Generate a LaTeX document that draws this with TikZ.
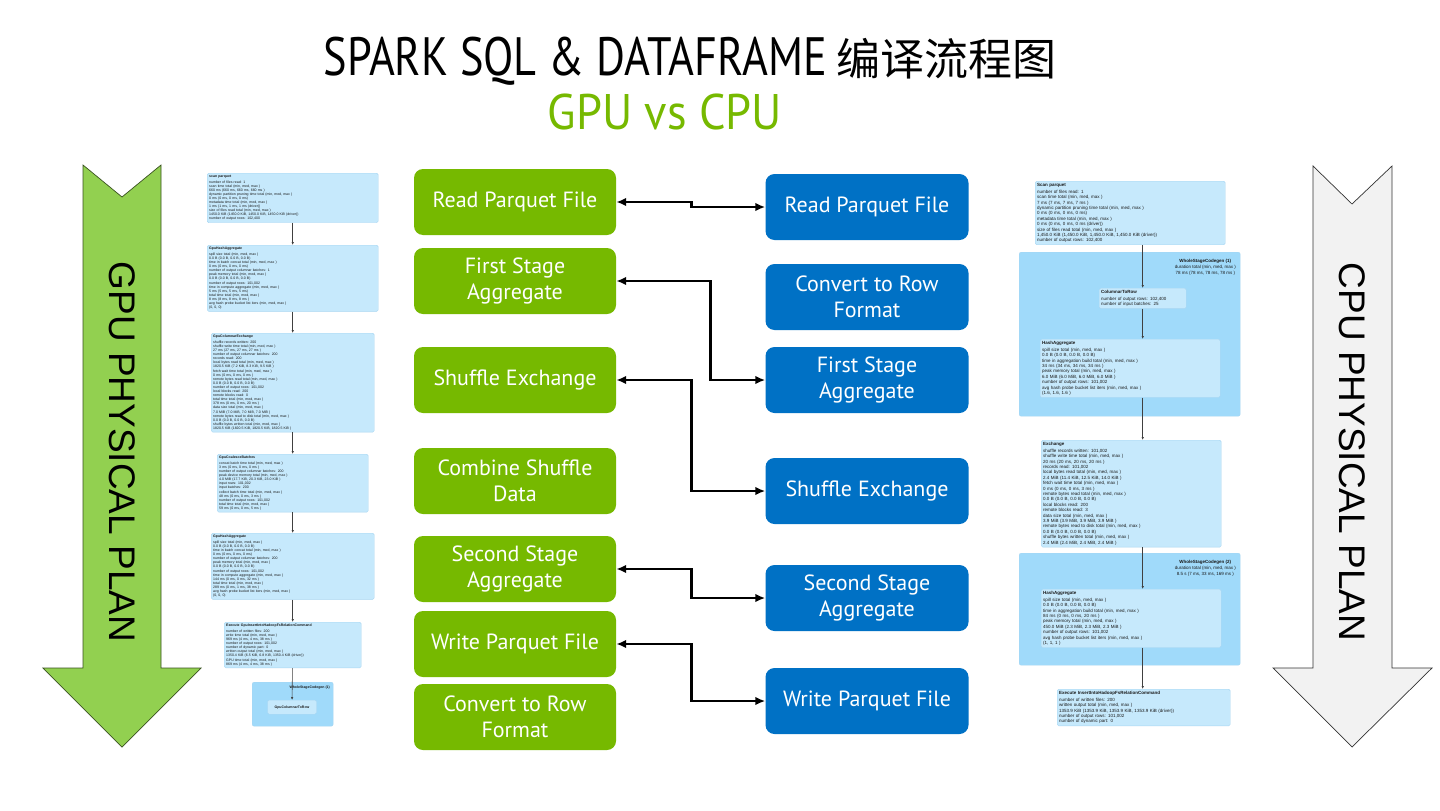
\documentclass[tikz,border=0pt]{standalone}
\usepackage{fontspec}
\setmainfont{PT Sans}
\newfontfamily\cjkfont{Noto Sans CJK SC}
\newfontfamily\arialfont{Liberation Sans}
\usetikzlibrary{arrows.meta,positioning,calc}

\definecolor{nvgreen}{RGB}{118,185,0}
\definecolor{cpublue}{RGB}{0,113,197}
\definecolor{arrowgreen}{RGB}{146,208,80}
\definecolor{arrowgray}{RGB}{242,242,242}
\definecolor{planfill}{RGB}{198,233,252}
\definecolor{planline}{RGB}{168,214,242}
\definecolor{clusterfill}{RGB}{160,218,250}

\tikzset{
  gpubox/.style={fill=nvgreen, text=white, rounded corners=9pt, minimum width=202pt, minimum height=66pt, align=center, font=\fontsize{22}{26}\selectfont},
  cpubox/.style={gpubox, fill=cpublue, minimum width=203pt},
  link/.style={{Latex[length=10pt,width=8.5pt]}-{Latex[length=10pt,width=8.5pt]}, line width=2.6pt},
  planbox/.style={fill=planfill, draw=planline, line width=0.4pt, rounded corners=1.5pt, align=left, anchor=north west, inner sep=2pt, text=black!90},
  gplan/.style={planbox, font=\arialfont\fontsize{3.5}{4.1}\selectfont},
  cplan/.style={planbox, font=\arialfont\fontsize{4.5}{5.4}\selectfont},
  cluster/.style={fill=clusterfill, draw=planline, line width=0.4pt, rounded corners=2pt, anchor=north west, inner sep=0pt},
  planlink/.style={-{Latex[length=3pt,width=2.5pt]}, line width=0.6pt, draw=black!75},
}

\begin{document}
\begin{tikzpicture}[x=1pt,y=-1pt]
\useasboundingbox (0,0) rectangle (1440,811);
\fill[white] (0,0) rectangle (1440,811);

% title
\node (title) at (690,61) {\scalebox{0.82}[1]{\fontsize{54}{60}\selectfont SPARK SQL \& DATAFRAME}\hspace{9pt}{\cjkfont\fontsize{44}{50}\selectfont 编译流程图}};
\node[text=nvgreen] (subtitle) at (665,112) {\scalebox{0.93}[1]{\fontsize{50}{56}\selectfont GPU vs CPU}};

% side arrows
\draw[fill=arrowgreen, draw=black!60!arrowgreen, line width=0.7pt] (83,165) -- (122,197) -- (161,165) -- (161,668) -- (201,668) -- (122,747) -- (43,668) -- (83,668) -- cycle;
\node[rotate=-90, font=\arialfont\fontsize{37}{40}\selectfont] (gpuplan) at (122,452) {GPU PHYSICAL PLAN};
\draw[fill=arrowgray, draw=black!80, line width=0.7pt] (1313,166) -- (1352,204) -- (1392,166) -- (1392,668) -- (1432,668) -- (1352,747) -- (1273,668) -- (1313,668) -- cycle;
\node[rotate=-90, font=\arialfont\fontsize{37}{40}\selectfont] (cpuplan) at (1352,452) {CPU PHYSICAL PLAN};

% GPU stages
\node[gpubox] (gread) at (515,202) {Read Parquet File};
\node[gpubox] (gfirst) at (515,281) {First Stage\\Aggregate};
\node[gpubox] (gshuf) at (515,380) {Shuffle Exchange};
\node[gpubox] (gcomb) at (515,481) {Combine Shuffle\\Data};
\node[gpubox] (gsecond) at (515,569) {Second Stage\\Aggregate};
\node[gpubox] (gwrite) at (515,644) {Write Parquet File};
\node[gpubox] (gconv) at (515,717) {Convert to Row\\Format};

% CPU stages
\node[cpubox] (bread) at (867,207) {Read Parquet File};
\node[cpubox] (bconv) at (867,297) {Convert to Row\\Format};
\node[cpubox] (bfirst) at (867,380) {First Stage\\Aggregate};
\node[cpubox] (bshuf) at (867,491) {Shuffle Exchange};
\node[cpubox] (bsecond) at (867,598) {Second Stage\\Aggregate};
\node[cpubox] (bwrite) at (867,701) {Write Parquet File};

\draw[link] (gread.east) -- ++(75,0) |- (bread.west);
\draw[link] (gfirst.east) -- ++(94,0) |- (bfirst.west);
\draw[link] (gshuf.east) -- ++(75,0) |- (bshuf.west);
\draw[link] (gsecond.east) -- ++(75,0) |- (bsecond.west);
\draw[link] (gwrite.east) -- ++(75,0) |- (bwrite.west);

% GPU physical plan
\node[gplan, text width=167pt] (gscan) at (207,173) {\textbf{scan parquet}\\[1.5pt]
number of files read: 1\\scan time total (min, med, max )\\660 ms (660 ms, 660 ms, 660 ms )\\dynamic partition pruning time total (min, med, max )\\0 ms (0 ms, 0 ms, 0 ms)\\metadata time total (min, med, max )\\1 ms (1 ms, 1 ms, 1 ms (driver))\\size of files read total (min, med, max )\\1450.0 KiB (1450.0 KiB, 1450.0 KiB, 1450.0 KiB (driver))\\number of output rows: 102,400};
\node[gplan, text width=167pt] (gagg1) at (207,245) {\textbf{GpuHashAggregate}\\[1.5pt]
spill size total (min, med, max )\\0.0 B (0.0 B, 0.0 B, 0.0 B)\\time in batch concat total (min, med, max )\\0 ms (0 ms, 0 ms, 0 ms)\\number of output columnar batches: 1\\peak memory total (min, med, max )\\0.0 B (0.0 B, 0.0 B, 0.0 B)\\number of output rows: 101,002\\time in compute aggregate (min, med, max )\\5 ms (5 ms, 5 ms, 5 ms)\\total time total (min, med, max )\\8 ms (8 ms, 8 ms, 8 ms )\\avg hash probe bucket list iters (min, med, max )\\(0, 0, 0)};
\node[gplan, text width=159pt] (gexch) at (211,333) {\textbf{GpuColumnarExchange}\\[1.5pt]
shuffle records written: 200\\shuffle write time total (min, med, max )\\27 ms (27 ms, 27 ms, 27 ms )\\number of output columnar batches: 200\\records read: 200\\local bytes read total (min, med, max )\\1820.5 KiB (7.2 KiB, 8.3 KiB, 9.5 KiB )\\fetch wait time total (min, med, max )\\0 ms (0 ms, 0 ms, 0 ms )\\remote bytes read total (min, med, max )\\0.0 B (0.0 B, 0.0 B, 0.0 B)\\number of output rows: 101,002\\local blocks read: 200\\remote blocks read: 0\\total time total (min, med, max )\\378 ms (0 ms, 0 ms, 20 ms )\\data size total (min, med, max )\\7.0 MiB (7.0 MiB, 7.0 MiB, 7.0 MiB )\\remote bytes read to disk total (min, med, max )\\0.0 B (0.0 B, 0.0 B, 0.0 B)\\shuffle bytes written total (min, med, max )\\1820.5 KiB (1820.5 KiB, 1820.5 KiB, 1820.5 KiB )};
\node[gplan, text width=147pt] (gcoal) at (217,454) {\textbf{GpuCoalesceBatches}\\[1.5pt]
concat batch time total (min, med, max )\\3 ms (0 ms, 0 ms, 0 ms )\\number of output columnar batches: 200\\peak device memory total (min, med, max )\\4.0 MiB (17.7 KiB, 20.3 KiB, 23.0 KiB )\\input rows: 101,002\\input batches: 200\\collect batch time total (min, med, max )\\48 ms (0 ms, 0 ms, 3 ms )\\number of output rows: 101,002\\total time total (min, med, max )\\59 ms (0 ms, 0 ms, 5 ms )};
\node[gplan, text width=159pt] (gagg2) at (211,533) {\textbf{GpuHashAggregate}\\[1.5pt]
spill size total (min, med, max )\\0.0 B (0.0 B, 0.0 B, 0.0 B)\\time in batch concat total (min, med, max )\\0 ms (0 ms, 0 ms, 0 ms)\\number of output columnar batches: 200\\peak memory total (min, med, max )\\0.0 B (0.0 B, 0.0 B, 0.0 B)\\number of output rows: 101,002\\time in compute aggregate (min, med, max )\\144 ms (0 ms, 0 ms, 32 ms )\\total time total (min, med, max )\\289 ms (0 ms, 1 ms, 38 ms )\\avg hash probe bucket list iters (min, med, max )\\(0, 0, 0)};
\node[gplan, text width=133pt] (gexec) at (224,622) {\textbf{Execute GpuInsertIntoHadoopFsRelationCommand}\\[1.5pt]
number of written files: 200\\write time total (min, med, max )\\969 ms (4 ms, 4 ms, 38 ms )\\number of output rows: 101,002\\number of dynamic part: 0\\written output total (min, med, max )\\1350.4 KiB (6.5 KiB, 6.8 KiB, 1350.4 KiB (driver))\\GPU time total (min, med, max )\\869 ms (4 ms, 4 ms, 38 ms )};
\node[cluster, minimum width=81pt, minimum height=44pt] (gstage) at (252,682) {};
\node[anchor=north east, inner sep=0pt, font=\arialfont\bfseries\fontsize{3.5}{4.1}\selectfont, text=black!90] (gstagelbl) at (330,686) {WholeStageCodegen (1)};
\node[planbox, anchor=north, align=center, minimum width=49pt, minimum height=14pt, font=\arialfont\bfseries\fontsize{3.5}{4.1}\selectfont] (gc2r) at (292,700) {GpuColumnarToRow};

\draw[planlink] (gscan) -- (gagg1);
\draw[planlink] (gagg1) -- (gexch);
\draw[planlink] (gexch) -- (gcoal);
\draw[planlink] (gcoal) -- (gagg2);
\draw[planlink] (gagg2) -- (gexec);
\draw[planlink] (gexec) -- (gc2r);

% CPU physical plan
\node[cplan, text width=186pt] (cscan) at (1035,181) {\textbf{Scan parquet}\\[1.5pt]
number of files read: 1\\scan time total (min, med, max )\\7 ms (7 ms, 7 ms, 7 ms )\\dynamic partition pruning time total (min, med, max )\\0 ms (0 ms, 0 ms, 0 ms)\\metadata time total (min, med, max )\\0 ms (0 ms, 0 ms, 0 ms (driver))\\size of files read total (min, med, max )\\1,450.0 KiB (1,450.0 KiB, 1,450.0 KiB, 1,450.0 KiB (driver))\\number of output rows: 102,400};
\node[cluster, minimum width=221pt, minimum height=164pt] (cstage1) at (1019,252) {};
\node[anchor=north east, inner sep=0pt, align=center, font=\arialfont\fontsize{4.5}{5.4}\selectfont, text=black!90] (cstage1lbl) at (1236,259) {\textbf{WholeStageCodegen (1)}\\[1pt]duration total (min, med, max )\\78 ms (78 ms, 78 ms, 78 ms )};
\node[cplan, text width=83pt] (cc2r) at (1099,288) {\textbf{ColumnarToRow}\\[1.5pt]
number of output rows: 102,400\\number of input batches: 25};
\node[cplan, text width=176pt] (cagg1) at (1040,339) {\textbf{HashAggregate}\\[1.5pt]
spill size total (min, med, max )\\0.0 B (0.0 B, 0.0 B, 0.0 B)\\time in aggregation build total (min, med, max )\\34 ms (34 ms, 34 ms, 34 ms )\\peak memory total (min, med, max )\\6.0 MiB (6.0 MiB, 6.0 MiB, 6.0 MiB )\\number of output rows: 101,002\\avg hash probe bucket list iters (min, med, max )\\(1.6, 1.6, 1.6 )};
\node[cplan, text width=176pt] (cexch) at (1041,440) {\textbf{Exchange}\\[1.5pt]
shuffle records written: 101,002\\shuffle write time total (min, med, max )\\20 ms (20 ms, 20 ms, 20 ms )\\records read: 101,002\\local bytes read total (min, med, max )\\2.4 MiB (11.4 KiB, 12.5 KiB, 14.0 KiB )\\fetch wait time total (min, med, max )\\0 ms (0 ms, 0 ms, 3 ms )\\remote bytes read total (min, med, max )\\0.0 B (0.0 B, 0.0 B, 0.0 B)\\local blocks read: 200\\remote blocks read: 3\\data size total (min, med, max )\\3.9 MiB (3.9 MiB, 3.9 MiB, 3.9 MiB )\\remote bytes read to disk total (min, med, max )\\0.0 B (0.0 B, 0.0 B, 0.0 B)\\shuffle bytes written total (min, med, max )\\2.4 MiB (2.4 MiB, 2.4 MiB, 2.4 MiB )};
\node[cluster, minimum width=221pt, minimum height=112pt] (cstage2) at (1019,553) {};
\node[anchor=north east, inner sep=0pt, align=center, font=\arialfont\fontsize{4.5}{5.4}\selectfont, text=black!90] (cstage2lbl) at (1236,560) {\textbf{WholeStageCodegen (2)}\\[1pt]duration total (min, med, max )\\8.5 s (7 ms, 33 ms, 169 ms )};
\node[cplan, text width=176pt] (cagg2) at (1041,589) {\textbf{HashAggregate}\\[1.5pt]
spill size total (min, med, max )\\0.0 B (0.0 B, 0.0 B, 0.0 B)\\time in aggregation build total (min, med, max )\\84 ms (0 ms, 0 ms, 20 ms )\\peak memory total (min, med, max )\\450.0 MiB (2.3 MiB, 2.3 MiB, 2.3 MiB )\\number of output rows: 101,002\\avg hash probe bucket list iters (min, med, max )\\(1, 1, 1 )};
\node[cplan, text width=169pt] (cexec) at (1057,689) {\textbf{Execute InsertIntoHadoopFsRelationCommand}\\[1.5pt]
number of written files: 200\\written output total (min, med, max )\\1353.9 KiB (1353.9 KiB, 1353.9 KiB, 1353.9 KiB (driver))\\number of output rows: 101,002\\number of dynamic part: 0};

\draw[planlink] (cscan.south -| cc2r) -- (cc2r.north);
\draw[planlink] (cc2r) -- (cagg1.north -| cc2r);
\draw[planlink] (cagg1.south -| cc2r) -- (cexch.north -| cc2r);
\draw[planlink] (cexch.south -| cc2r) -- (cagg2.north -| cc2r);
\draw[planlink] (cagg2.south -| cc2r) -- (cexec.north -| cc2r);
\end{tikzpicture}
\end{document}
